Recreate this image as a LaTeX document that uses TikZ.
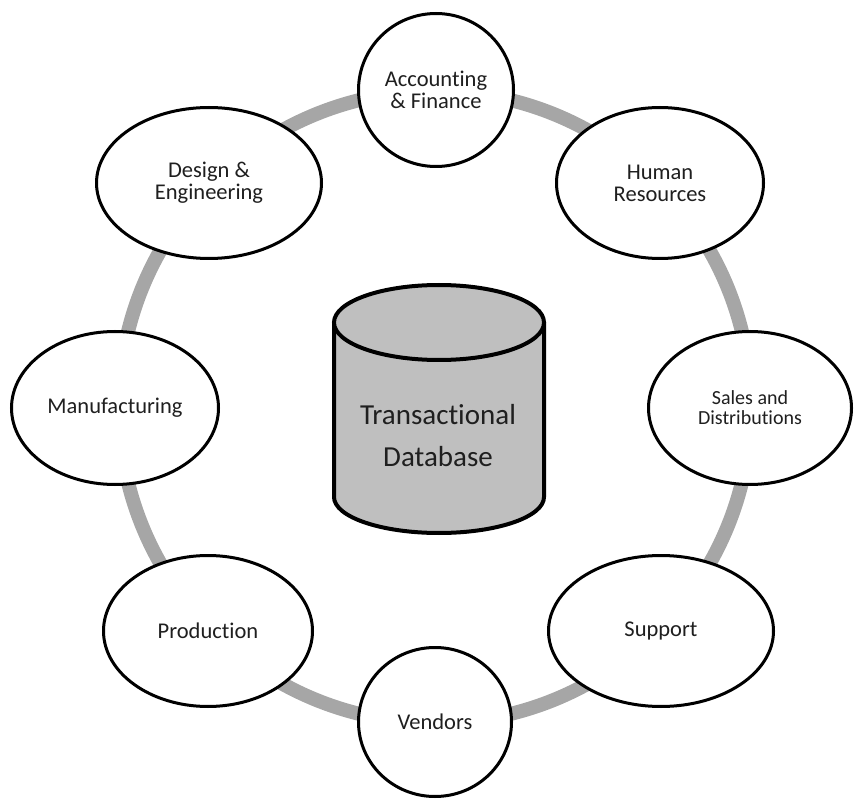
\documentclass[tikz,border=0pt]{standalone}
\usepackage{fontspec}
\setmainfont{Carlito}[RawFeature={-liga}]
\usetikzlibrary{shapes.geometric}
\definecolor{ringgray}{HTML}{A6A6A6}
\definecolor{dbgray}{HTML}{BFBFBF}
\definecolor{txt}{HTML}{1F1F1F}
\begin{document}
\begin{tikzpicture}[x=1pt,y=-1pt,
  dept/.style={ellipse, draw=black, line width=3pt, fill=white, inner sep=0pt,
    align=center, text=txt, font=\fontsize{22.5}{22}\selectfont},
  ringline/.style={draw=ringgray, line width=14pt},
  dbbody/.style={fill=dbgray, draw=black, line width=4pt}]
\useasboundingbox (0,0) rectangle (854,799);
\coordinate (c) at (435,407);
% ring
\draw[ringline] (c) circle (316);
% database cylinder
\fill[dbgray] (334,322) rectangle (544,497);
\fill[dbgray] (439,497) ellipse [x radius=105, y radius=36];
\draw[black, line width=4pt] (334,322) -- (334,497)
   arc [start angle=180, end angle=0, x radius=105, y radius=36] -- (544,322);
\draw[dbbody] (439,322.5) ellipse [x radius=105, y radius=37.5];
\node[text=txt, align=center, font=\fontsize{29}{42}\selectfont] (db) at (438,436) {Transactional\\Database};
% departments
\node[dept, minimum width=155pt, minimum height=153pt] (acc) at (436,90) {Accounting\\\& Finance};
\node[dept, minimum width=207pt, minimum height=151pt] (hr) at (660,183) {Human\\Resources};
\node[dept, minimum width=203pt, minimum height=153pt, font=\fontsize{20}{20}\selectfont] (sales) at (750,408) {Sales and\\Distributions};
\node[dept, minimum width=225pt, minimum height=151pt] (sup) at (661,631) {Support};
\node[dept, minimum width=153pt, minimum height=149pt] (ven) at (435,722) {Vendors};
\node[dept, minimum width=209pt, minimum height=151pt] (prod) at (208,631) {Production};
\node[dept, minimum width=207pt, minimum height=153pt] (manu) at (115,408) {Manufacturing};
\node[dept, minimum width=225pt, minimum height=151pt] (des) at (209,183) {Design \&\\Engineering};
\end{tikzpicture}
\end{document}
